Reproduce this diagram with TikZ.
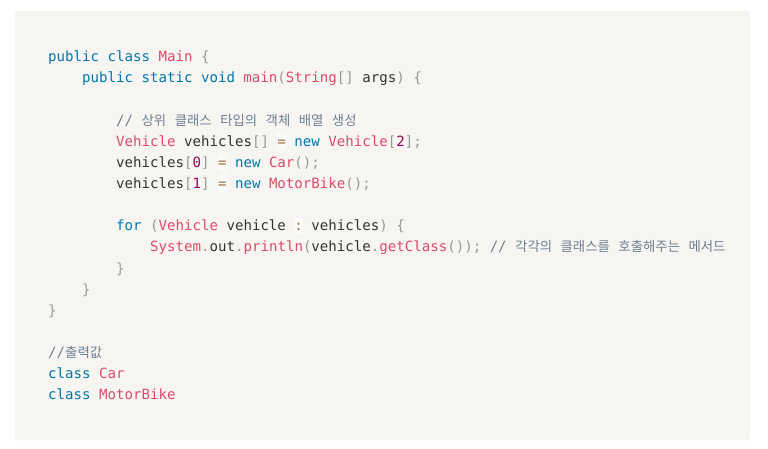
\documentclass[tikz,border=0pt]{standalone}
\usepackage{fontspec}
\setmonofont{DejaVu Sans Mono}
\newfontfamily\krfont{Noto Sans CJK KR}[Scale=0.95]
\usetikzlibrary{positioning}
\definecolor{codebg}{HTML}{F6F5F2}
\definecolor{plainColor}{HTML}{333333}
\definecolor{kwColor}{HTML}{0077AA}
\definecolor{fnColor}{HTML}{DD4A68}
\definecolor{puColor}{HTML}{999999}
\definecolor{opColor}{HTML}{9A6E3A}
\definecolor{nbColor}{HTML}{990055}
\definecolor{cmColor}{HTML}{708090}
\colorlet{opbg}{white!50!codebg}
\newcommand\codefont{\ttfamily\fontsize{14.1}{21}\selectfont}
\newcommand\kw[1]{\textcolor{kwColor}{#1}}
\newcommand\fn[1]{\textcolor{fnColor}{#1}}
\newcommand\pu[1]{\textcolor{puColor}{#1}}
\newcommand\nbr[1]{\textcolor{nbColor}{#1}}
\newcommand\cmt[1]{\textcolor{cmColor}{#1}}
\newcommand\kr[1]{{\krfont #1}}
\newcommand\opr[1]{{\setlength\fboxsep{0pt}\colorbox{opbg}{\rule[-0.24em]{0pt}{1.17em}\textcolor{opColor}{#1}}}}
\tikzset{codeline/.style={anchor=base west, inner sep=0pt, font=\codefont, text=plainColor}}

\begin{document}
\begin{tikzpicture}[x=1pt,y=-1pt]
\useasboundingbox (0,0) rectangle (768,449);
\fill[codebg, rounded corners=2] (15,11) rectangle (750,440);
\node (cls) [codeline] at (48,61.8) {\kw{public} \kw{class} \fn{Main} \pu{\{}};
\node (mainfn) [codeline] at (82,82.9) {\kw{public} \kw{static} \kw{void} \fn{main}\pu{(}\fn{String}\pu{[]} args\pu{)} \pu{\{}};
\node (cmt1) [codeline] at (116,125.2) {\cmt{// \kr{상위} \kr{클래스} \kr{타입의} \kr{객체} \kr{배열} \kr{생성}}};
\node (arr) [codeline] at (116,146.3) {\fn{Vehicle} vehicles\pu{[]} \opr{=} \kw{new} \fn{Vehicle}\pu{[}\nbr{2}\pu{];}};
\node (car) [codeline] at (116,167.4) {vehicles\pu{[}\nbr{0}\pu{]} \opr{=} \kw{new} \fn{Car}\pu{();}};
\node (bike) [codeline] at (116,188.5) {vehicles\pu{[}\nbr{1}\pu{]} \opr{=} \kw{new} \fn{MotorBike}\pu{();}};
\node (loop) [codeline] at (116,230.8) {\kw{for} \pu{(}\fn{Vehicle} vehicle \opr{:} vehicles\pu{)} \pu{\{}};
\node (print) [codeline] at (150,251.9) {\fn{System}\pu{.}out\pu{.}\fn{println}\pu{(}vehicle\pu{.}\fn{getClass}\pu{());} \cmt{// \kr{각각의} \kr{클래스를} \kr{호출해주는} \kr{메서드}}};
\node (endloop) [codeline] at (116,273.0) {\pu{\}}};
\node (endmain) [codeline] at (82,294.1) {\pu{\}}};
\node (endcls) [codeline] at (48,315.3) {\pu{\}}};
%output
\node (cmt2) [codeline] at (48,357.5) {\cmt{//\kr{출력값}}};
\node (out1) [codeline] at (48,378.7) {\kw{class} \fn{Car}};
\node (out2) [codeline] at (48,399.8) {\kw{class} \fn{MotorBike}};
\end{tikzpicture}
\end{document}
